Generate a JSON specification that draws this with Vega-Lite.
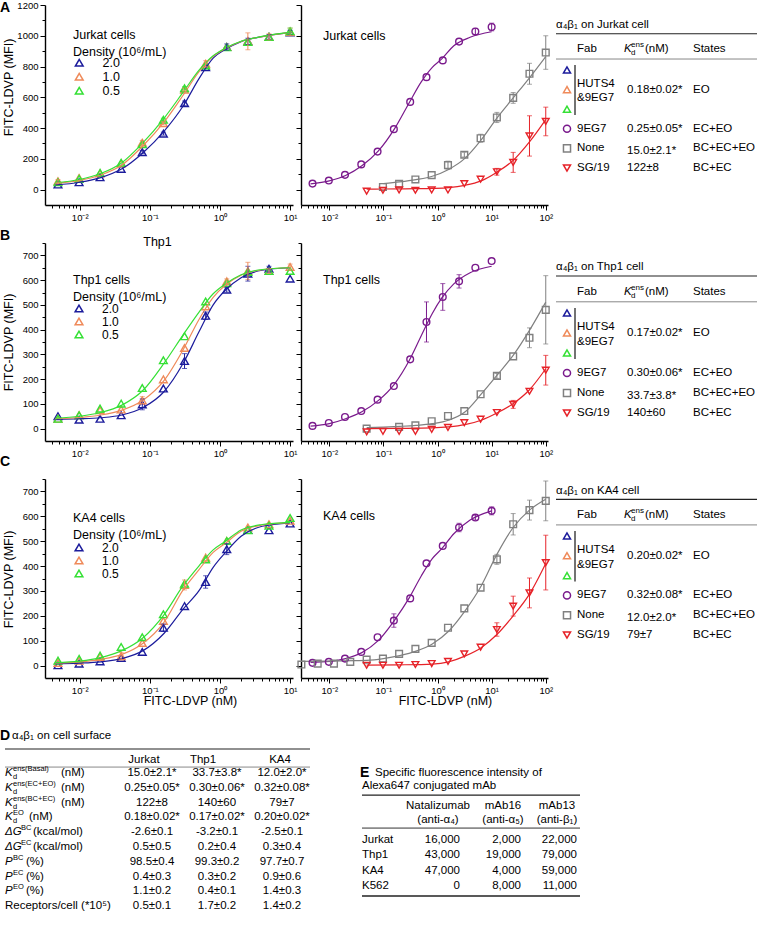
{
"$schema": "https://vega.github.io/schema/vega-lite/v6.json",
"padding": 0,
"background": "white",
"config": {
  "view": {"stroke": null},
  "font": "Liberation Sans",
  "axis": {"grid": false, "domainColor": "#000", "domainWidth": 1.4, "tickColor": "#000", "tickWidth": 1, "labelColor": "#000", "labelFont": "Liberation Sans", "labelFontSize": 9.5, "titleFont": "Liberation Sans", "titleFontSize": 12.5, "titleFontWeight": "normal", "titleColor": "#000", "labelPadding": 2, "labelOverlap": false, "labelFlush": false},
  "title": {"font": "Liberation Sans", "color": "#000", "fontWeight": "normal"},
  "text": {"font": "Liberation Sans", "fontSize": 11.5, "color": "#000"}
},
"datasets": {
"pts": [
{"p":"A1","s":"2.0","x":0.0049,"y":33},{"p":"A1","s":"2.0","x":0.0098,"y":48},{"p":"A1","s":"2.0","x":0.0195,"y":80},{"p":"A1","s":"2.0","x":0.039,"y":135},{"p":"A1","s":"2.0","x":0.078,"y":244,"e":10},{"p":"A1","s":"2.0","x":0.156,"y":364,"e":10},{"p":"A1","s":"2.0","x":0.3125,"y":561,"e":15},{"p":"A1","s":"2.0","x":0.625,"y":796},{"p":"A1","s":"2.0","x":1.25,"y":927,"e":20},{"p":"A1","s":"2.0","x":2.5,"y":964,"e":20},{"p":"A1","s":"2.0","x":5,"y":993,"e":15},{"p":"A1","s":"2.0","x":10,"y":1021,"e":15},
{"p":"A1","s":"1.0","x":0.0049,"y":55,"e":10},{"p":"A1","s":"1.0","x":0.0098,"y":76},{"p":"A1","s":"1.0","x":0.0195,"y":105},{"p":"A1","s":"1.0","x":0.039,"y":170},{"p":"A1","s":"1.0","x":0.078,"y":305,"e":15},{"p":"A1","s":"1.0","x":0.156,"y":432,"e":10},{"p":"A1","s":"1.0","x":0.3125,"y":650,"e":10},{"p":"A1","s":"1.0","x":0.625,"y":818,"e":20},{"p":"A1","s":"1.0","x":1.25,"y":927},{"p":"A1","s":"1.0","x":2.5,"y":964,"e":55},{"p":"A1","s":"1.0","x":5,"y":993,"e":20},{"p":"A1","s":"1.0","x":10,"y":1025,"e":25},
{"p":"A1","s":"0.5","x":0.0049,"y":48},{"p":"A1","s":"0.5","x":0.0098,"y":70},{"p":"A1","s":"0.5","x":0.0195,"y":109},{"p":"A1","s":"0.5","x":0.039,"y":175},{"p":"A1","s":"0.5","x":0.078,"y":295},{"p":"A1","s":"0.5","x":0.156,"y":454,"e":10},{"p":"A1","s":"0.5","x":0.3125,"y":659,"e":10},{"p":"A1","s":"0.5","x":0.625,"y":807},{"p":"A1","s":"0.5","x":1.25,"y":925},{"p":"A1","s":"0.5","x":2.5,"y":960},{"p":"A1","s":"0.5","x":5,"y":993},{"p":"A1","s":"0.5","x":10,"y":1030,"e":20},
{"p":"B1","s":"2.0","x":0.0049,"y":50},{"p":"B1","s":"2.0","x":0.0098,"y":36},{"p":"B1","s":"2.0","x":0.0195,"y":40},{"p":"B1","s":"2.0","x":0.039,"y":54},{"p":"B1","s":"2.0","x":0.078,"y":98,"e":22},{"p":"B1","s":"2.0","x":0.156,"y":162},{"p":"B1","s":"2.0","x":0.3125,"y":273,"e":30},{"p":"B1","s":"2.0","x":0.625,"y":456,"e":15},{"p":"B1","s":"2.0","x":1.25,"y":561,"e":10},{"p":"B1","s":"2.0","x":2.5,"y":626,"e":30},{"p":"B1","s":"2.0","x":5,"y":646,"e":10},{"p":"B1","s":"2.0","x":10,"y":606},
{"p":"B1","s":"1.0","x":0.0049,"y":40},{"p":"B1","s":"1.0","x":0.0098,"y":54},{"p":"B1","s":"1.0","x":0.0195,"y":74},{"p":"B1","s":"1.0","x":0.039,"y":77},{"p":"B1","s":"1.0","x":0.078,"y":114,"e":15},{"p":"B1","s":"1.0","x":0.156,"y":199},{"p":"B1","s":"1.0","x":0.3125,"y":326},{"p":"B1","s":"1.0","x":0.625,"y":494},{"p":"B1","s":"1.0","x":1.25,"y":595,"e":10},{"p":"B1","s":"1.0","x":2.5,"y":637,"e":35},{"p":"B1","s":"1.0","x":5,"y":637,"e":10},{"p":"B1","s":"1.0","x":10,"y":653,"e":12},
{"p":"B1","s":"0.5","x":0.0049,"y":40},{"p":"B1","s":"0.5","x":0.0098,"y":54},{"p":"B1","s":"0.5","x":0.0195,"y":81},{"p":"B1","s":"0.5","x":0.039,"y":101},{"p":"B1","s":"0.5","x":0.078,"y":164},{"p":"B1","s":"0.5","x":0.156,"y":276},{"p":"B1","s":"0.5","x":0.3125,"y":373},{"p":"B1","s":"0.5","x":0.625,"y":514},{"p":"B1","s":"0.5","x":1.25,"y":588},{"p":"B1","s":"0.5","x":2.5,"y":633},{"p":"B1","s":"0.5","x":5,"y":637},{"p":"B1","s":"0.5","x":10,"y":637},
{"p":"C1","s":"2.0","x":0.0049,"y":1},{"p":"C1","s":"2.0","x":0.0098,"y":8},{"p":"C1","s":"2.0","x":0.0195,"y":17},{"p":"C1","s":"2.0","x":0.039,"y":31},{"p":"C1","s":"2.0","x":0.078,"y":55},{"p":"C1","s":"2.0","x":0.156,"y":152,"e":15},{"p":"C1","s":"2.0","x":0.3125,"y":239},{"p":"C1","s":"2.0","x":0.625,"y":336,"e":25},{"p":"C1","s":"2.0","x":1.25,"y":468,"e":22},{"p":"C1","s":"2.0","x":2.5,"y":545},{"p":"C1","s":"2.0","x":5,"y":544},{"p":"C1","s":"2.0","x":10,"y":571},
{"p":"C1","s":"1.0","x":0.0049,"y":11},{"p":"C1","s":"1.0","x":0.0098,"y":20},{"p":"C1","s":"1.0","x":0.0195,"y":34},{"p":"C1","s":"1.0","x":0.039,"y":38,"e":15},{"p":"C1","s":"1.0","x":0.078,"y":91},{"p":"C1","s":"1.0","x":0.156,"y":179},{"p":"C1","s":"1.0","x":0.3125,"y":324,"e":20},{"p":"C1","s":"1.0","x":0.625,"y":434},{"p":"C1","s":"1.0","x":1.25,"y":501},{"p":"C1","s":"1.0","x":2.5,"y":555},{"p":"C1","s":"1.0","x":5,"y":568},{"p":"C1","s":"1.0","x":10,"y":582},
{"p":"C1","s":"0.5","x":0.0049,"y":20},{"p":"C1","s":"0.5","x":0.0098,"y":27},{"p":"C1","s":"0.5","x":0.0195,"y":40},{"p":"C1","s":"0.5","x":0.039,"y":75},{"p":"C1","s":"0.5","x":0.078,"y":114},{"p":"C1","s":"0.5","x":0.156,"y":206},{"p":"C1","s":"0.5","x":0.3125,"y":329},{"p":"C1","s":"0.5","x":0.625,"y":427},{"p":"C1","s":"0.5","x":1.25,"y":501},{"p":"C1","s":"0.5","x":2.5,"y":544},{"p":"C1","s":"0.5","x":5,"y":562},{"p":"C1","s":"0.5","x":10,"y":593},
{"p":"A2","s":"9EG7","x":0.0049,"y":39},{"p":"A2","s":"9EG7","x":0.0098,"y":59},{"p":"A2","s":"9EG7","x":0.0195,"y":96},{"p":"A2","s":"9EG7","x":0.039,"y":164},{"p":"A2","s":"9EG7","x":0.078,"y":247},{"p":"A2","s":"9EG7","x":0.156,"y":393},{"p":"A2","s":"9EG7","x":0.3125,"y":570},{"p":"A2","s":"9EG7","x":0.625,"y":731},{"p":"A2","s":"9EG7","x":1.25,"y":840},{"p":"A2","s":"9EG7","x":2.5,"y":962},{"p":"A2","s":"9EG7","x":5,"y":1028,"e":20},{"p":"A2","s":"9EG7","x":10,"y":1057,"e":25},
{"p":"A2","s":"None","x":0.098,"y":17},{"p":"A2","s":"None","x":0.195,"y":37},{"p":"A2","s":"None","x":0.39,"y":66},{"p":"A2","s":"None","x":0.78,"y":94},{"p":"A2","s":"None","x":1.56,"y":159,"e":26},{"p":"A2","s":"None","x":3.125,"y":227,"e":15},{"p":"A2","s":"None","x":6.25,"y":334,"e":26},{"p":"A2","s":"None","x":12.5,"y":469,"e":33},{"p":"A2","s":"None","x":25,"y":596,"e":35},{"p":"A2","s":"None","x":50,"y":753,"e":68},{"p":"A2","s":"None","x":100,"y":891,"e":109},
{"p":"A2","s":"SG/19","x":0.049,"y":-10},{"p":"A2","s":"SG/19","x":0.098,"y":-4},{"p":"A2","s":"SG/19","x":0.195,"y":-2},{"p":"A2","s":"SG/19","x":0.39,"y":-4},{"p":"A2","s":"SG/19","x":0.78,"y":-2},{"p":"A2","s":"SG/19","x":1.56,"y":-2},{"p":"A2","s":"SG/19","x":3.125,"y":39},{"p":"A2","s":"SG/19","x":6.25,"y":68},{"p":"A2","s":"SG/19","x":12.5,"y":116,"e":22},{"p":"A2","s":"SG/19","x":25,"y":177,"e":65},{"p":"A2","s":"SG/19","x":50,"y":349,"e":131},{"p":"A2","s":"SG/19","x":100,"y":443,"e":93},
{"p":"B2","s":"9EG7","x":0.0049,"y":11},{"p":"B2","s":"9EG7","x":0.0098,"y":23},{"p":"B2","s":"9EG7","x":0.0195,"y":47},{"p":"B2","s":"9EG7","x":0.039,"y":71},{"p":"B2","s":"9EG7","x":0.078,"y":117},{"p":"B2","s":"9EG7","x":0.156,"y":172},{"p":"B2","s":"9EG7","x":0.3125,"y":280},{"p":"B2","s":"9EG7","x":0.625,"y":431,"e":81},{"p":"B2","s":"9EG7","x":1.25,"y":532,"e":54},{"p":"B2","s":"9EG7","x":2.5,"y":595,"e":27},{"p":"B2","s":"9EG7","x":5,"y":650},{"p":"B2","s":"9EG7","x":10,"y":677},
{"p":"B2","s":"None","x":0.049,"y":0},{"p":"B2","s":"None","x":0.195,"y":7},{"p":"B2","s":"None","x":0.39,"y":13},{"p":"B2","s":"None","x":0.78,"y":30},{"p":"B2","s":"None","x":1.56,"y":51},{"p":"B2","s":"None","x":3.125,"y":71},{"p":"B2","s":"None","x":6.25,"y":139},{"p":"B2","s":"None","x":12.5,"y":213,"e":10},{"p":"B2","s":"None","x":25,"y":292},{"p":"B2","s":"None","x":50,"y":367,"e":40},{"p":"B2","s":"None","x":100,"y":480,"e":138},
{"p":"B2","s":"SG/19","x":0.049,"y":-13},{"p":"B2","s":"SG/19","x":0.098,"y":-11},{"p":"B2","s":"SG/19","x":0.195,"y":-11},{"p":"B2","s":"SG/19","x":0.39,"y":-11},{"p":"B2","s":"SG/19","x":0.78,"y":-3},{"p":"B2","s":"SG/19","x":1.56,"y":5},{"p":"B2","s":"SG/19","x":3.125,"y":24},{"p":"B2","s":"SG/19","x":6.25,"y":38},{"p":"B2","s":"SG/19","x":12.5,"y":65},{"p":"B2","s":"SG/19","x":25,"y":98,"e":16},{"p":"B2","s":"SG/19","x":50,"y":151},{"p":"B2","s":"SG/19","x":100,"y":236,"e":60},
{"p":"C2","s":"9EG7","x":0.0049,"y":11},{"p":"C2","s":"9EG7","x":0.0098,"y":15},{"p":"C2","s":"9EG7","x":0.0195,"y":28},{"p":"C2","s":"9EG7","x":0.039,"y":55},{"p":"C2","s":"9EG7","x":0.078,"y":114},{"p":"C2","s":"9EG7","x":0.156,"y":181,"e":27},{"p":"C2","s":"9EG7","x":0.3125,"y":270},{"p":"C2","s":"9EG7","x":0.625,"y":411},{"p":"C2","s":"9EG7","x":1.25,"y":481},{"p":"C2","s":"9EG7","x":2.5,"y":555,"e":17},{"p":"C2","s":"9EG7","x":5,"y":595,"e":10},{"p":"C2","s":"9EG7","x":10,"y":622,"e":16},
{"p":"C2","s":"None","x":0.00305,"y":4},{"p":"C2","s":"None","x":0.0061,"y":8},{"p":"C2","s":"None","x":0.0122,"y":8},{"p":"C2","s":"None","x":0.0244,"y":15},{"p":"C2","s":"None","x":0.049,"y":24},{"p":"C2","s":"None","x":0.098,"y":28},{"p":"C2","s":"None","x":0.195,"y":47},{"p":"C2","s":"None","x":0.39,"y":67},{"p":"C2","s":"None","x":0.78,"y":91},{"p":"C2","s":"None","x":1.56,"y":152},{"p":"C2","s":"None","x":3.125,"y":230},{"p":"C2","s":"None","x":6.25,"y":313},{"p":"C2","s":"None","x":12.5,"y":427,"e":20},{"p":"C2","s":"None","x":25,"y":568,"e":43},{"p":"C2","s":"None","x":50,"y":625,"e":40},{"p":"C2","s":"None","x":100,"y":662,"e":80},
{"p":"C2","s":"SG/19","x":0.049,"y":1},{"p":"C2","s":"SG/19","x":0.098,"y":1},{"p":"C2","s":"SG/19","x":0.195,"y":1},{"p":"C2","s":"SG/19","x":0.39,"y":4},{"p":"C2","s":"SG/19","x":0.78,"y":8},{"p":"C2","s":"SG/19","x":1.56,"y":17},{"p":"C2","s":"SG/19","x":3.125,"y":47},{"p":"C2","s":"SG/19","x":6.25,"y":74},{"p":"C2","s":"SG/19","x":12.5,"y":145,"e":27},{"p":"C2","s":"SG/19","x":25,"y":239,"e":40},{"p":"C2","s":"SG/19","x":50,"y":292,"e":60},{"p":"C2","s":"SG/19","x":100,"y":414,"e":110}
],
"crv": [
{"p":"A1","s":"2.0","x":0.0045,"y":30},{"p":"A1","s":"2.0","x":0.01,"y":48},{"p":"A1","s":"2.0","x":0.02,"y":78},{"p":"A1","s":"2.0","x":0.04,"y":135},{"p":"A1","s":"2.0","x":0.08,"y":240},{"p":"A1","s":"2.0","x":0.16,"y":380},{"p":"A1","s":"2.0","x":0.3,"y":545},{"p":"A1","s":"2.0","x":0.5,"y":720},{"p":"A1","s":"2.0","x":0.8,"y":855},{"p":"A1","s":"2.0","x":1.2,"y":912},{"p":"A1","s":"2.0","x":2,"y":962},{"p":"A1","s":"2.0","x":4,"y":995},{"p":"A1","s":"2.0","x":10,"y":1021},
{"p":"A1","s":"1.0","x":0.0045,"y":40},{"p":"A1","s":"1.0","x":0.01,"y":60},{"p":"A1","s":"1.0","x":0.02,"y":95},{"p":"A1","s":"1.0","x":0.04,"y":160},{"p":"A1","s":"1.0","x":0.08,"y":285},{"p":"A1","s":"1.0","x":0.16,"y":440},{"p":"A1","s":"1.0","x":0.3,"y":615},{"p":"A1","s":"1.0","x":0.5,"y":765},{"p":"A1","s":"1.0","x":0.8,"y":866},{"p":"A1","s":"1.0","x":1.2,"y":918},{"p":"A1","s":"1.0","x":2,"y":963},{"p":"A1","s":"1.0","x":4,"y":995},{"p":"A1","s":"1.0","x":10,"y":1021},
{"p":"A1","s":"0.5","x":0.0045,"y":45},{"p":"A1","s":"0.5","x":0.01,"y":66},{"p":"A1","s":"0.5","x":0.02,"y":105},{"p":"A1","s":"0.5","x":0.04,"y":175},{"p":"A1","s":"0.5","x":0.08,"y":305},{"p":"A1","s":"0.5","x":0.16,"y":465},{"p":"A1","s":"0.5","x":0.3,"y":635},{"p":"A1","s":"0.5","x":0.5,"y":775},{"p":"A1","s":"0.5","x":0.8,"y":870},{"p":"A1","s":"0.5","x":1.2,"y":920},{"p":"A1","s":"0.5","x":2,"y":964},{"p":"A1","s":"0.5","x":4,"y":996},{"p":"A1","s":"0.5","x":10,"y":1022},
{"p":"B1","s":"2.0","x":0.0045,"y":38},{"p":"B1","s":"2.0","x":0.01,"y":40},{"p":"B1","s":"2.0","x":0.02,"y":44},{"p":"B1","s":"2.0","x":0.04,"y":55},{"p":"B1","s":"2.0","x":0.08,"y":85},{"p":"B1","s":"2.0","x":0.16,"y":150},{"p":"B1","s":"2.0","x":0.3,"y":265},{"p":"B1","s":"2.0","x":0.5,"y":390},{"p":"B1","s":"2.0","x":0.8,"y":500},{"p":"B1","s":"2.0","x":1.2,"y":560},{"p":"B1","s":"2.0","x":2,"y":610},{"p":"B1","s":"2.0","x":4,"y":640},{"p":"B1","s":"2.0","x":10,"y":650},
{"p":"B1","s":"1.0","x":0.0045,"y":40},{"p":"B1","s":"1.0","x":0.01,"y":45},{"p":"B1","s":"1.0","x":0.02,"y":55},{"p":"B1","s":"1.0","x":0.04,"y":75},{"p":"B1","s":"1.0","x":0.08,"y":115},{"p":"B1","s":"1.0","x":0.16,"y":195},{"p":"B1","s":"1.0","x":0.3,"y":320},{"p":"B1","s":"1.0","x":0.5,"y":440},{"p":"B1","s":"1.0","x":0.8,"y":530},{"p":"B1","s":"1.0","x":1.2,"y":580},{"p":"B1","s":"1.0","x":2,"y":620},{"p":"B1","s":"1.0","x":4,"y":642},{"p":"B1","s":"1.0","x":10,"y":650},
{"p":"B1","s":"0.5","x":0.0045,"y":42},{"p":"B1","s":"0.5","x":0.01,"y":50},{"p":"B1","s":"0.5","x":0.02,"y":65},{"p":"B1","s":"0.5","x":0.04,"y":95},{"p":"B1","s":"0.5","x":0.08,"y":155},{"p":"B1","s":"0.5","x":0.16,"y":265},{"p":"B1","s":"0.5","x":0.3,"y":380},{"p":"B1","s":"0.5","x":0.5,"y":470},{"p":"B1","s":"0.5","x":0.8,"y":545},{"p":"B1","s":"0.5","x":1.2,"y":585},{"p":"B1","s":"0.5","x":2,"y":622},{"p":"B1","s":"0.5","x":4,"y":643},{"p":"B1","s":"0.5","x":10,"y":650},
{"p":"C1","s":"2.0","x":0.0045,"y":8},{"p":"C1","s":"2.0","x":0.01,"y":10},{"p":"C1","s":"2.0","x":0.02,"y":15},{"p":"C1","s":"2.0","x":0.04,"y":28},{"p":"C1","s":"2.0","x":0.08,"y":60},{"p":"C1","s":"2.0","x":0.16,"y":130},{"p":"C1","s":"2.0","x":0.3,"y":228},{"p":"C1","s":"2.0","x":0.5,"y":300},{"p":"C1","s":"2.0","x":0.8,"y":395},{"p":"C1","s":"2.0","x":1.2,"y":455},{"p":"C1","s":"2.0","x":2,"y":520},{"p":"C1","s":"2.0","x":4,"y":560},{"p":"C1","s":"2.0","x":10,"y":574},
{"p":"C1","s":"1.0","x":0.0045,"y":10},{"p":"C1","s":"1.0","x":0.01,"y":15},{"p":"C1","s":"1.0","x":0.02,"y":25},{"p":"C1","s":"1.0","x":0.04,"y":45},{"p":"C1","s":"1.0","x":0.08,"y":90},{"p":"C1","s":"1.0","x":0.16,"y":175},{"p":"C1","s":"1.0","x":0.3,"y":305},{"p":"C1","s":"1.0","x":0.5,"y":385},{"p":"C1","s":"1.0","x":0.8,"y":455},{"p":"C1","s":"1.0","x":1.2,"y":492},{"p":"C1","s":"1.0","x":2,"y":540},{"p":"C1","s":"1.0","x":4,"y":565},{"p":"C1","s":"1.0","x":10,"y":575},
{"p":"C1","s":"0.5","x":0.0045,"y":12},{"p":"C1","s":"0.5","x":0.01,"y":18},{"p":"C1","s":"0.5","x":0.02,"y":32},{"p":"C1","s":"0.5","x":0.04,"y":60},{"p":"C1","s":"0.5","x":0.08,"y":112},{"p":"C1","s":"0.5","x":0.16,"y":205},{"p":"C1","s":"0.5","x":0.3,"y":322},{"p":"C1","s":"0.5","x":0.5,"y":400},{"p":"C1","s":"0.5","x":0.8,"y":465},{"p":"C1","s":"0.5","x":1.2,"y":500},{"p":"C1","s":"0.5","x":2,"y":545},{"p":"C1","s":"0.5","x":4,"y":567},{"p":"C1","s":"0.5","x":10,"y":576},
{"p":"A2","s":"9EG7","x":0.0045,"y":37},{"p":"A2","s":"9EG7","x":0.01,"y":57},{"p":"A2","s":"9EG7","x":0.02,"y":92},{"p":"A2","s":"9EG7","x":0.04,"y":155},{"p":"A2","s":"9EG7","x":0.08,"y":250},{"p":"A2","s":"9EG7","x":0.16,"y":395},{"p":"A2","s":"9EG7","x":0.3,"y":565},{"p":"A2","s":"9EG7","x":0.5,"y":700},{"p":"A2","s":"9EG7","x":0.8,"y":795},{"p":"A2","s":"9EG7","x":1.2,"y":850},{"p":"A2","s":"9EG7","x":2,"y":935},{"p":"A2","s":"9EG7","x":4,"y":990},{"p":"A2","s":"9EG7","x":10,"y":1026},
{"p":"A2","s":"None","x":0.1,"y":39},{"p":"A2","s":"None","x":0.2,"y":50},{"p":"A2","s":"None","x":0.4,"y":65},{"p":"A2","s":"None","x":0.8,"y":87},{"p":"A2","s":"None","x":1.6,"y":131},{"p":"A2","s":"None","x":3.2,"y":203},{"p":"A2","s":"None","x":6.4,"y":323},{"p":"A2","s":"None","x":12.5,"y":465},{"p":"A2","s":"None","x":25,"y":596},{"p":"A2","s":"None","x":50,"y":727},{"p":"A2","s":"None","x":100,"y":865},
{"p":"A2","s":"SG/19","x":0.049,"y":3},{"p":"A2","s":"SG/19","x":0.1,"y":4},{"p":"A2","s":"SG/19","x":0.2,"y":5},{"p":"A2","s":"SG/19","x":0.4,"y":6},{"p":"A2","s":"SG/19","x":0.8,"y":8},{"p":"A2","s":"SG/19","x":1.6,"y":13},{"p":"A2","s":"SG/19","x":3.2,"y":28},{"p":"A2","s":"SG/19","x":6.4,"y":57},{"p":"A2","s":"SG/19","x":12.5,"y":113},{"p":"A2","s":"SG/19","x":25,"y":190},{"p":"A2","s":"SG/19","x":50,"y":310},{"p":"A2","s":"SG/19","x":100,"y":455},
{"p":"B2","s":"9EG7","x":0.0045,"y":10},{"p":"B2","s":"9EG7","x":0.01,"y":20},{"p":"B2","s":"9EG7","x":0.02,"y":40},{"p":"B2","s":"9EG7","x":0.04,"y":68},{"p":"B2","s":"9EG7","x":0.08,"y":113},{"p":"B2","s":"9EG7","x":0.16,"y":180},{"p":"B2","s":"9EG7","x":0.3,"y":275},{"p":"B2","s":"9EG7","x":0.5,"y":375},{"p":"B2","s":"9EG7","x":0.8,"y":465},{"p":"B2","s":"9EG7","x":1.2,"y":528},{"p":"B2","s":"9EG7","x":2,"y":585},{"p":"B2","s":"9EG7","x":4,"y":630},{"p":"B2","s":"9EG7","x":10,"y":656},
{"p":"B2","s":"None","x":0.049,"y":4},{"p":"B2","s":"None","x":0.1,"y":6},{"p":"B2","s":"None","x":0.2,"y":9},{"p":"B2","s":"None","x":0.4,"y":13},{"p":"B2","s":"None","x":0.8,"y":20},{"p":"B2","s":"None","x":1.6,"y":34},{"p":"B2","s":"None","x":3.2,"y":67},{"p":"B2","s":"None","x":6.4,"y":139},{"p":"B2","s":"None","x":12.5,"y":215},{"p":"B2","s":"None","x":25,"y":296},{"p":"B2","s":"None","x":50,"y":397},{"p":"B2","s":"None","x":100,"y":511},
{"p":"B2","s":"SG/19","x":0.049,"y":0},{"p":"B2","s":"SG/19","x":0.2,"y":1},{"p":"B2","s":"SG/19","x":0.8,"y":3},{"p":"B2","s":"SG/19","x":1.6,"y":7},{"p":"B2","s":"SG/19","x":3.2,"y":16},{"p":"B2","s":"SG/19","x":6.4,"y":34},{"p":"B2","s":"SG/19","x":12.5,"y":63},{"p":"B2","s":"SG/19","x":25,"y":101},{"p":"B2","s":"SG/19","x":50,"y":157},{"p":"B2","s":"SG/19","x":100,"y":242},
{"p":"C2","s":"9EG7","x":0.0045,"y":13},{"p":"C2","s":"9EG7","x":0.01,"y":17},{"p":"C2","s":"9EG7","x":0.02,"y":28},{"p":"C2","s":"9EG7","x":0.04,"y":52},{"p":"C2","s":"9EG7","x":0.08,"y":100},{"p":"C2","s":"9EG7","x":0.16,"y":182},{"p":"C2","s":"9EG7","x":0.3,"y":272},{"p":"C2","s":"9EG7","x":0.5,"y":360},{"p":"C2","s":"9EG7","x":0.8,"y":430},{"p":"C2","s":"9EG7","x":1.2,"y":470},{"p":"C2","s":"9EG7","x":2,"y":530},{"p":"C2","s":"9EG7","x":4,"y":585},{"p":"C2","s":"9EG7","x":10,"y":622},
{"p":"C2","s":"None","x":0.003,"y":17},{"p":"C2","s":"None","x":0.01,"y":18},{"p":"C2","s":"None","x":0.03,"y":20},{"p":"C2","s":"None","x":0.049,"y":21},{"p":"C2","s":"None","x":0.1,"y":28},{"p":"C2","s":"None","x":0.2,"y":40},{"p":"C2","s":"None","x":0.4,"y":58},{"p":"C2","s":"None","x":0.8,"y":87},{"p":"C2","s":"None","x":1.6,"y":138},{"p":"C2","s":"None","x":3.2,"y":219},{"p":"C2","s":"None","x":6.4,"y":320},{"p":"C2","s":"None","x":12.5,"y":447},{"p":"C2","s":"None","x":25,"y":555},{"p":"C2","s":"None","x":50,"y":625},{"p":"C2","s":"None","x":100,"y":669},
{"p":"C2","s":"SG/19","x":0.049,"y":2},{"p":"C2","s":"SG/19","x":0.2,"y":3},{"p":"C2","s":"SG/19","x":0.8,"y":6},{"p":"C2","s":"SG/19","x":1.6,"y":15},{"p":"C2","s":"SG/19","x":3.2,"y":38},{"p":"C2","s":"SG/19","x":6.4,"y":72},{"p":"C2","s":"SG/19","x":12.5,"y":125},{"p":"C2","s":"SG/19","x":25,"y":200},{"p":"C2","s":"SG/19","x":50,"y":287},{"p":"C2","s":"SG/19","x":100,"y":410}
],
"legsym": [{"s":"2.0","r":0},{"s":"1.0","r":1},{"s":"0.5","r":2},{"s":"9EG7","r":3},{"s":"None","r":4},{"s":"SG/19","r":5}],
"legtxt": [
{"p":"A","c":0,"r":-2.28,"t":"α₄β₁ on Jurkat cell"},{"p":"A","c":3,"r":-1.05,"t":"Fab"},{"p":"A","c":6,"r":-1.05,"t":"States"},{"p":"A","c":3,"r":0.72,"t":"HUTS4"},{"p":"A","c":3,"r":1.45,"t":"&9EG7"},{"p":"A","c":5,"r":1,"t":"0.18±0.02*"},{"p":"A","c":6,"r":1,"t":"EO"},{"p":"A","c":3,"r":3,"t":"9EG7"},{"p":"A","c":5,"r":3,"t":"0.25±0.05*"},{"p":"A","c":6,"r":3,"t":"EC+EO"},{"p":"A","c":3,"r":4,"t":"None"},{"p":"A","c":5,"r":4.15,"t":"15.0±2.1*"},{"p":"A","c":6,"r":4,"t":"BC+EC+EO"},{"p":"A","c":3,"r":5,"t":"SG/19"},{"p":"A","c":5,"r":5,"t":"\u2002122±8"},{"p":"A","c":6,"r":5,"t":"BC+EC"},
{"p":"B","c":0,"r":-2.28,"t":"α₄β₁ on Thp1 cell"},{"p":"B","c":3,"r":-1.05,"t":"Fab"},{"p":"B","c":6,"r":-1.05,"t":"States"},{"p":"B","c":3,"r":0.72,"t":"HUTS4"},{"p":"B","c":3,"r":1.45,"t":"&9EG7"},{"p":"B","c":5,"r":1,"t":"0.17±0.02*"},{"p":"B","c":6,"r":1,"t":"EO"},{"p":"B","c":3,"r":3,"t":"9EG7"},{"p":"B","c":5,"r":3,"t":"0.30±0.06*"},{"p":"B","c":6,"r":3,"t":"EC+EO"},{"p":"B","c":3,"r":4,"t":"None"},{"p":"B","c":5,"r":4.15,"t":"33.7±3.8*"},{"p":"B","c":6,"r":4,"t":"BC+EC+EO"},{"p":"B","c":3,"r":5,"t":"SG/19"},{"p":"B","c":5,"r":5,"t":"\u2002140±60"},{"p":"B","c":6,"r":5,"t":"BC+EC"},
{"p":"C","c":0,"r":-2.28,"t":"α₄β₁ on KA4 cell"},{"p":"C","c":3,"r":-1.05,"t":"Fab"},{"p":"C","c":6,"r":-1.05,"t":"States"},{"p":"C","c":3,"r":0.72,"t":"HUTS4"},{"p":"C","c":3,"r":1.45,"t":"&9EG7"},{"p":"C","c":5,"r":1,"t":"0.20±0.02*"},{"p":"C","c":6,"r":1,"t":"EO"},{"p":"C","c":3,"r":3,"t":"9EG7"},{"p":"C","c":5,"r":3,"t":"0.32±0.08*"},{"p":"C","c":6,"r":3,"t":"EC+EO"},{"p":"C","c":3,"r":4,"t":"None"},{"p":"C","c":5,"r":4.15,"t":"12.0±2.0*"},{"p":"C","c":6,"r":4,"t":"BC+EC+EO"},{"p":"C","c":3,"r":5,"t":"SG/19"},{"p":"C","c":5,"r":5,"t":"\u200279±7"},{"p":"C","c":6,"r":5,"t":"BC+EC"}
],
"dlab": [
{"r":0,"sym":"K","sup":"ens(Basal)","unit":"(nM)","lt":"Kens"},{"r":1,"sym":"K","sup":"ens(EC+EO)","unit":"(nM)","lt":"Kens"},{"r":2,"sym":"K","sup":"ens(BC+EC)","unit":"(nM)","lt":"Kens"},{"r":3,"sym":"K","sup":"EO","unit":"(nM)","lt":"KEO"},{"r":4,"sym":"ΔG","sup":"BC","unit":"(kcal/mol)","lt":"dG"},{"r":5,"sym":"ΔG","sup":"EC","unit":"(kcal/mol)","lt":"dG"},{"r":6,"sym":"P","sup":"BC","unit":"(%)","lt":"P"},{"r":7,"sym":"P","sup":"EC","unit":"(%)","lt":"P"},{"r":8,"sym":"P","sup":"EO","unit":"(%)","lt":"P"}
],
"dval": [
{"c":1,"r":-0.88,"t":"Jurkat"},{"c":3,"r":-0.88,"t":"Thp1"},{"c":5,"r":-0.88,"t":"KA4"},
{"c":2,"r":0,"t":"15.0±2.1*"},{"c":4,"r":0,"t":"33.7±3.8*"},{"c":6,"r":0,"t":"12.0±2.0*"},
{"c":2,"r":1,"t":"0.25±0.05*"},{"c":4,"r":1,"t":"0.30±0.06*"},{"c":6,"r":1,"t":"0.32±0.08*"},
{"c":2,"r":2,"t":"122±8"},{"c":4,"r":2,"t":"140±60"},{"c":6,"r":2,"t":"79±7"},
{"c":2,"r":3,"t":"0.18±0.02*"},{"c":4,"r":3,"t":"0.17±0.02*"},{"c":6,"r":3,"t":"0.20±0.02*"},
{"c":2,"r":4,"t":"-2.6±0.1"},{"c":4,"r":4,"t":"-3.2±0.1"},{"c":6,"r":4,"t":"-2.5±0.1"},
{"c":2,"r":5,"t":"0.5±0.5"},{"c":4,"r":5,"t":"0.2±0.4"},{"c":6,"r":5,"t":"0.3±0.4"},
{"c":2,"r":6,"t":"98.5±0.4"},{"c":4,"r":6,"t":"99.3±0.2"},{"c":6,"r":6,"t":"97.7±0.7"},
{"c":2,"r":7,"t":"0.4±0.3"},{"c":4,"r":7,"t":"0.3±0.2"},{"c":6,"r":7,"t":"0.9±0.6"},
{"c":2,"r":8,"t":"1.1±0.2"},{"c":4,"r":8,"t":"0.4±0.1"},{"c":6,"r":8,"t":"1.4±0.3"},
{"c":2,"r":9,"t":"0.5±0.1"},{"c":4,"r":9,"t":"1.7±0.2"},{"c":6,"r":9,"t":"1.4±0.2"}
],
"etl": [{"c":0,"r":-3.48,"t":"Alexa647 conjugated mAb"},{"c":0,"r":0,"t":"Jurkat"},{"c":0,"r":1,"t":"Thp1"},{"c":0,"r":2,"t":"KA4"},{"c":0,"r":3,"t":"K562"}],
"etc": [{"c":1,"r":-2.19,"t":"Natalizumab"},{"c":3,"r":-2.19,"t":"mAb16"},{"c":5,"r":-2.19,"t":"mAb13"},{"c":1,"r":-1.29,"t":"(anti-α₄)"},{"c":3,"r":-1.29,"t":"(anti-α₅)"},{"c":5,"r":-1.29,"t":"(anti-β₁)"}],
"etr": [
{"c":2,"r":0,"t":"16,000"},{"c":4,"r":0,"t":"2,000"},{"c":6,"r":0,"t":"22,000"},
{"c":2,"r":1,"t":"43,000"},{"c":4,"r":1,"t":"19,000"},{"c":6,"r":1,"t":"79,000"},
{"c":2,"r":2,"t":"47,000"},{"c":4,"r":2,"t":"4,000"},{"c":6,"r":2,"t":"59,000"},
{"c":2,"r":3,"t":"0"},{"c":4,"r":3,"t":"8,000"},{"c":6,"r":3,"t":"11,000"}
]
},
"columns": 3,
"align": "none",
"bounds": "flush",
"spacing": {"row": 38, "column": 8},
"resolve": {"scale": {"color": "independent", "shape": "independent"}},
"concat": [
  {
   "width": 248, "height": 200,
   "title": {"text": "A", "anchor": "start", "frame": "group", "fontSize": 14, "fontWeight": "bold", "offset": 0, "dx": -45, "dy": 26, "baseline": "alphabetic"},
   "resolve": {"scale": {"color": "independent"}},
   "encoding": {
    "x": {"field": "x", "type": "quantitative", "scale": {"type": "log", "domain": [0.0032, 11], "nice": false}, "axis": {"title": null, "values": [0.004,0.005,0.006,0.007,0.008,0.009,0.01,0.02,0.03,0.04,0.05,0.06,0.07,0.08,0.09,0.1,0.2,0.3,0.4,0.5,0.6,0.7,0.8,0.9,1,2,3,4,5,6,7,8,9,10], "labelExpr": "datum.value === 0.01 ? '10⁻²' : datum.value === 0.1 ? '10⁻¹' : datum.value === 1 ? '10⁰' : datum.value === 10 ? '10¹' : datum.value === 100 ? '10²' : ''", "tickSize": {"condition": {"test": "datum.value === 0.01 || datum.value === 0.1 || datum.value === 1 || datum.value === 10 || datum.value === 100", "value": 5}, "value": 3}}},
    "y": {"field": "y", "type": "quantitative", "scale": {"domain": [-100, 1200], "nice": false, "zero": false}, "axis": {"title": "FITC-LDVP (MFI)", "titleX": -30, "titleY": 82, "values": [0,100,200,300,400,500,600,700,800,900,1000,1100,1200], "format": "d", "labelExpr": "datum.value % 200 === 0 ? datum.label : ''", "tickSize": {"condition": {"test": "datum.value % 200 === 0", "value": 5}, "value": 3}}}
   },
   "layer": [
    {"data": {"name": "pts"}, "transform": [{"filter": "datum.p === 'A1'"}], "mark": {"type": "point", "shape": "triangle-up", "filled": false, "size": 60, "strokeWidth": 1.4, "opacity": 1}, "encoding": {"color": {"field": "s", "type": "nominal", "scale": {"domain": ["2.0","1.0","0.5"], "range": ["#1c1c9c","#ef8a5a","#35e035"]}, "legend": {"orient": "none", "legendX": 28, "legendY": 24, "title": ["Jurkat cells", "Density (10⁶/mL)"], "titleFontSize": 12.5, "titleFontWeight": "normal", "titleFont": "Liberation Sans", "titleColor": "#000", "titleLineHeight": 17, "titlePadding": -2, "labelFontSize": 12.5, "labelFont": "Liberation Sans", "labelColor": "#000", "labelOffset": 17, "symbolType": "triangle-up", "symbolSize": 60, "symbolStrokeWidth": 1.5, "rowPadding": 0, "padding": 0}}}},
    {"data": {"name": "crv"}, "transform": [{"filter": "datum.p === 'A1'"}], "mark": {"type": "line", "interpolate": "monotone", "strokeWidth": 1.2}, "encoding": {"color": {"field": "s", "type": "nominal", "scale": {"domain": ["2.0","1.0","0.5"], "range": ["#1c1c9c","#ef8a5a","#35e035"]}, "legend": null}}},
    {"data": {"name": "pts"}, "transform": [{"filter": "datum.p === 'A1' && datum.e > 0"}], "mark": {"type": "errorbar", "ticks": true, "thickness": 1}, "encoding": {"yError": {"field": "e"}, "color": {"field": "s", "type": "nominal", "scale": {"domain": ["2.0","1.0","0.5"], "range": ["#1c1c9c","#ef8a5a","#35e035"]}, "legend": null}}}
   ]
  },
  {
   "width": 247, "height": 200,
   "title": {"text": "Jurkat cells", "anchor": "start", "frame": "group", "fontSize": 12.5, "offset": 0, "dx": 22, "dy": 47.5, "baseline": "alphabetic"},
   "encoding": {
    "x": {"field": "x", "type": "quantitative", "scale": {"type": "log", "domain": [0.003, 110], "nice": false}, "axis": {"title": null, "values": [0.003,0.004,0.005,0.006,0.007,0.008,0.009,0.01,0.02,0.03,0.04,0.05,0.06,0.07,0.08,0.09,0.1,0.2,0.3,0.4,0.5,0.6,0.7,0.8,0.9,1,2,3,4,5,6,7,8,9,10,20,30,40,50,60,70,80,90,100], "labelExpr": "datum.value === 0.01 ? '10⁻²' : datum.value === 0.1 ? '10⁻¹' : datum.value === 1 ? '10⁰' : datum.value === 10 ? '10¹' : datum.value === 100 ? '10²' : ''", "tickSize": {"condition": {"test": "datum.value === 0.01 || datum.value === 0.1 || datum.value === 1 || datum.value === 10 || datum.value === 100", "value": 5}, "value": 3}}},
    "y": {"field": "y", "type": "quantitative", "scale": {"domain": [-100, 1200], "nice": false, "zero": false}, "axis": {"title": null, "labels": false, "values": [0,100,200,300,400,500,600,700,800,900,1000,1100,1200], "tickSize": {"condition": {"test": "datum.value % 200 === 0", "value": 5}, "value": 3}}}
   },
   "layer": [
    {"data": {"name": "crv"}, "transform": [{"filter": "datum.p === 'A2'"}], "mark": {"type": "line", "interpolate": "monotone", "strokeWidth": 1.2}, "encoding": {"color": {"field": "s", "type": "nominal", "scale": {"domain": ["9EG7","None","SG/19"], "range": ["#7a1a8c","#808080","#e62228"]}, "legend": null}}},
    {"data": {"name": "pts"}, "transform": [{"filter": "datum.p === 'A2' && datum.e > 0"}], "mark": {"type": "errorbar", "ticks": true, "thickness": 1}, "encoding": {"yError": {"field": "e"}, "color": {"field": "s", "type": "nominal", "scale": {"domain": ["9EG7","None","SG/19"], "range": ["#7a1a8c","#808080","#e62228"]}, "legend": null}}},
    {"data": {"name": "pts"}, "transform": [{"filter": "datum.p === 'A2'"}], "mark": {"type": "point", "filled": false, "size": 45, "strokeWidth": 1.4, "opacity": 1}, "encoding": {"color": {"field": "s", "type": "nominal", "scale": {"domain": ["9EG7","None","SG/19"], "range": ["#7a1a8c","#808080","#e62228"]}, "legend": null}, "shape": {"field": "s", "type": "nominal", "scale": {"domain": ["9EG7","None","SG/19"], "range": ["circle","square","triangle-down"]}, "legend": null}}}
   ]
  },
  {
   "width": 201, "height": 200,
   "layer": [
    {"data": {"values": [{}]}, "mark": {"type": "rule", "color": "#222", "strokeWidth": 1.2}, "encoding": {"y": {"datum": -1.85, "type": "quantitative", "scale": {"domain": [-3.316, 6.888], "reverse": true, "nice": false, "zero": false}, "axis": null}}},
    {"data": {"values": [{}]}, "mark": {"type": "rule", "color": "#888", "strokeWidth": 1}, "encoding": {"y": {"datum": -0.56, "type": "quantitative"}}},
    {"data": {"values": [{}]}, "mark": {"type": "rule", "color": "#444", "strokeWidth": 1.5}, "encoding": {"x": {"datum": 2, "type": "quantitative", "scale": {"domain": [0,1,2,3,4,5,6], "range": [0,11,19,21,68,71,137], "nice": false, "zero": false}, "axis": null}, "y": {"datum": -0.25, "type": "quantitative"}, "y2": {"datum": 2.3}}},
    {"data": {"name": "legsym"}, "mark": {"type": "point", "filled": false, "size": 50, "strokeWidth": 1.5, "opacity": 1}, "encoding": {"x": {"datum": 1, "type": "quantitative"}, "y": {"field": "r", "type": "quantitative"}, "color": {"field": "s", "type": "nominal", "scale": {"domain": ["2.0","1.0","0.5","9EG7","None","SG/19"], "range": ["#1c1c9c","#ef8a5a","#35e035","#7a1a8c","#808080","#e62228"]}, "legend": null}, "shape": {"field": "s", "type": "nominal", "scale": {"domain": ["2.0","1.0","0.5","9EG7","None","SG/19"], "range": ["triangle-up","triangle-up","triangle-up","circle","square","triangle-down"]}, "legend": null}}},
    {"data": {"name": "legtxt"}, "transform": [{"filter": "datum.p === 'A'"}], "mark": {"type": "text", "align": "left", "baseline": "middle", "fontSize": 11.5}, "encoding": {"x": {"field": "c", "type": "quantitative"}, "y": {"field": "r", "type": "quantitative"}, "text": {"field": "t"}}},
    {"data": {"values": [{"c": 4, "r": -1.05}]}, "mark": {"type": "text", "text": "K", "fontStyle": "italic", "align": "left", "baseline": "middle", "fontSize": 11.5}, "encoding": {"x": {"field": "c", "type": "quantitative"}, "y": {"field": "r", "type": "quantitative"}}},
    {"data": {"values": [{"c": 4, "r": -1.05}]}, "mark": {"type": "text", "text": "d", "align": "left", "baseline": "middle", "fontSize": 8, "dx": 7, "dy": 4}, "encoding": {"x": {"field": "c", "type": "quantitative"}, "y": {"field": "r", "type": "quantitative"}}},
    {"data": {"values": [{"c": 4, "r": -1.05}]}, "mark": {"type": "text", "text": "ens", "align": "left", "baseline": "middle", "fontSize": 8, "dx": 7, "dy": -4}, "encoding": {"x": {"field": "c", "type": "quantitative"}, "y": {"field": "r", "type": "quantitative"}}},
    {"data": {"values": [{"c": 4, "r": -1.05}]}, "mark": {"type": "text", "text": "(nM)", "align": "left", "baseline": "middle", "fontSize": 11.5, "dx": 21}, "encoding": {"x": {"field": "c", "type": "quantitative"}, "y": {"field": "r", "type": "quantitative"}}}
   ]
  },
  {
   "width": 248, "height": 198,
   "title": {"text": "B", "anchor": "start", "frame": "group", "fontSize": 14, "fontWeight": "bold", "offset": 0, "dx": -45, "dy": 19, "baseline": "alphabetic"},
   "resolve": {"axis": {"x": "independent"}, "scale": {"color": "independent"}},
   "encoding": {
    "y": {"field": "y", "type": "quantitative", "scale": {"domain": [-50, 750], "nice": false, "zero": false}, "axis": {"title": "FITC-LDVP (MFI)", "titleX": -30, "titleY": 99, "values": [0,50,100,150,200,250,300,350,400,450,500,550,600,650,700,750], "format": "d", "labelExpr": "datum.value % 100 === 0 ? datum.label : ''", "tickSize": {"condition": {"test": "datum.value % 100 === 0", "value": 5}, "value": 3}}}
   },
   "layer": [
    {"data": {"name": "pts"}, "transform": [{"filter": "datum.p === 'B1'"}], "mark": {"type": "point", "shape": "triangle-up", "filled": false, "size": 60, "strokeWidth": 1.4, "opacity": 1}, "encoding": {"x": {"field": "x", "type": "quantitative", "axis": {"orient": "top", "title": "Thp1", "labels": false, "ticks": false, "domain": false, "titleX": 112, "titleY": 2, "titleBaseline": "alphabetic"}}, "color": {"field": "s", "type": "nominal", "scale": {"domain": ["2.0","1.0","0.5"], "range": ["#1c1c9c","#ef8a5a","#35e035"]}, "legend": {"orient": "none", "legendX": 28, "legendY": 31, "title": ["Thp1 cells", "Density (10⁶/mL)"], "titleFontSize": 12.5, "titleFontWeight": "normal", "titleFont": "Liberation Sans", "titleColor": "#000", "titleLineHeight": 17, "titlePadding": -1, "labelFontSize": 12, "labelFont": "Liberation Sans", "labelColor": "#000", "labelOffset": 17, "symbolType": "triangle-up", "symbolSize": 60, "symbolStrokeWidth": 1.5, "rowPadding": -1, "padding": 0}}}},
    {"data": {"name": "crv"}, "transform": [{"filter": "datum.p === 'B1'"}], "mark": {"type": "line", "interpolate": "monotone", "strokeWidth": 1.2}, "encoding": {"x": {"field": "x", "type": "quantitative", "scale": {"type": "log", "domain": [0.0032, 11], "nice": false}, "axis": {"orient": "bottom", "title": null, "values": [0.004,0.005,0.006,0.007,0.008,0.009,0.01,0.02,0.03,0.04,0.05,0.06,0.07,0.08,0.09,0.1,0.2,0.3,0.4,0.5,0.6,0.7,0.8,0.9,1,2,3,4,5,6,7,8,9,10], "labelExpr": "datum.value === 0.01 ? '10⁻²' : datum.value === 0.1 ? '10⁻¹' : datum.value === 1 ? '10⁰' : datum.value === 10 ? '10¹' : datum.value === 100 ? '10²' : ''", "tickSize": {"condition": {"test": "datum.value === 0.01 || datum.value === 0.1 || datum.value === 1 || datum.value === 10 || datum.value === 100", "value": 5}, "value": 3}}}, "color": {"field": "s", "type": "nominal", "scale": {"domain": ["2.0","1.0","0.5"], "range": ["#1c1c9c","#ef8a5a","#35e035"]}, "legend": null}}},
    {"data": {"name": "pts"}, "transform": [{"filter": "datum.p === 'B1' && datum.e > 0"}], "mark": {"type": "errorbar", "ticks": true, "thickness": 1}, "encoding": {"x": {"field": "x", "type": "quantitative", "axis": null}, "yError": {"field": "e"}, "color": {"field": "s", "type": "nominal", "scale": {"domain": ["2.0","1.0","0.5"], "range": ["#1c1c9c","#ef8a5a","#35e035"]}, "legend": null}}}
   ]
  },
  {
   "width": 247, "height": 198,
   "title": {"text": "Thp1 cells", "anchor": "start", "frame": "group", "fontSize": 12.5, "offset": 0, "dx": 22, "dy": 53.5, "baseline": "alphabetic"},
   "encoding": {
    "x": {"field": "x", "type": "quantitative", "scale": {"type": "log", "domain": [0.003, 110], "nice": false}, "axis": {"title": null, "values": [0.003,0.004,0.005,0.006,0.007,0.008,0.009,0.01,0.02,0.03,0.04,0.05,0.06,0.07,0.08,0.09,0.1,0.2,0.3,0.4,0.5,0.6,0.7,0.8,0.9,1,2,3,4,5,6,7,8,9,10,20,30,40,50,60,70,80,90,100], "labelExpr": "datum.value === 0.01 ? '10⁻²' : datum.value === 0.1 ? '10⁻¹' : datum.value === 1 ? '10⁰' : datum.value === 10 ? '10¹' : datum.value === 100 ? '10²' : ''", "tickSize": {"condition": {"test": "datum.value === 0.01 || datum.value === 0.1 || datum.value === 1 || datum.value === 10 || datum.value === 100", "value": 5}, "value": 3}}},
    "y": {"field": "y", "type": "quantitative", "scale": {"domain": [-50, 750], "nice": false, "zero": false}, "axis": {"title": null, "labels": false, "values": [0,50,100,150,200,250,300,350,400,450,500,550,600,650,700,750], "tickSize": {"condition": {"test": "datum.value % 100 === 0", "value": 5}, "value": 3}}}
   },
   "layer": [
    {"data": {"name": "crv"}, "transform": [{"filter": "datum.p === 'B2'"}], "mark": {"type": "line", "interpolate": "monotone", "strokeWidth": 1.2}, "encoding": {"color": {"field": "s", "type": "nominal", "scale": {"domain": ["9EG7","None","SG/19"], "range": ["#7a1a8c","#808080","#e62228"]}, "legend": null}}},
    {"data": {"name": "pts"}, "transform": [{"filter": "datum.p === 'B2' && datum.e > 0"}], "mark": {"type": "errorbar", "ticks": true, "thickness": 1}, "encoding": {"yError": {"field": "e"}, "color": {"field": "s", "type": "nominal", "scale": {"domain": ["9EG7","None","SG/19"], "range": ["#7a1a8c","#808080","#e62228"]}, "legend": null}}},
    {"data": {"name": "pts"}, "transform": [{"filter": "datum.p === 'B2'"}], "mark": {"type": "point", "filled": false, "size": 45, "strokeWidth": 1.4, "opacity": 1}, "encoding": {"color": {"field": "s", "type": "nominal", "scale": {"domain": ["9EG7","None","SG/19"], "range": ["#7a1a8c","#808080","#e62228"]}, "legend": null}, "shape": {"field": "s", "type": "nominal", "scale": {"domain": ["9EG7","None","SG/19"], "range": ["circle","square","triangle-down"]}, "legend": null}}}
   ]
  },
  {
   "width": 201, "height": 198,
   "layer": [
    {"data": {"values": [{}]}, "mark": {"type": "rule", "color": "#222", "strokeWidth": 1.2}, "encoding": {"y": {"datum": -1.85, "type": "quantitative", "scale": {"domain": [-3.5, 6.4], "reverse": true, "nice": false, "zero": false}, "axis": null}}},
    {"data": {"values": [{}]}, "mark": {"type": "rule", "color": "#888", "strokeWidth": 1}, "encoding": {"y": {"datum": -0.56, "type": "quantitative"}}},
    {"data": {"values": [{}]}, "mark": {"type": "rule", "color": "#444", "strokeWidth": 1.5}, "encoding": {"x": {"datum": 2, "type": "quantitative", "scale": {"domain": [0,1,2,3,4,5,6], "range": [0,11,19,21,68,71,137], "nice": false, "zero": false}, "axis": null}, "y": {"datum": -0.25, "type": "quantitative"}, "y2": {"datum": 2.3}}},
    {"data": {"name": "legsym"}, "mark": {"type": "point", "filled": false, "size": 50, "strokeWidth": 1.5, "opacity": 1}, "encoding": {"x": {"datum": 1, "type": "quantitative"}, "y": {"field": "r", "type": "quantitative"}, "color": {"field": "s", "type": "nominal", "scale": {"domain": ["2.0","1.0","0.5","9EG7","None","SG/19"], "range": ["#1c1c9c","#ef8a5a","#35e035","#7a1a8c","#808080","#e62228"]}, "legend": null}, "shape": {"field": "s", "type": "nominal", "scale": {"domain": ["2.0","1.0","0.5","9EG7","None","SG/19"], "range": ["triangle-up","triangle-up","triangle-up","circle","square","triangle-down"]}, "legend": null}}},
    {"data": {"name": "legtxt"}, "transform": [{"filter": "datum.p === 'B'"}], "mark": {"type": "text", "align": "left", "baseline": "middle", "fontSize": 11.5}, "encoding": {"x": {"field": "c", "type": "quantitative"}, "y": {"field": "r", "type": "quantitative"}, "text": {"field": "t"}}},
    {"data": {"values": [{"c": 4, "r": -1.05}]}, "mark": {"type": "text", "text": "K", "fontStyle": "italic", "align": "left", "baseline": "middle", "fontSize": 11.5}, "encoding": {"x": {"field": "c", "type": "quantitative"}, "y": {"field": "r", "type": "quantitative"}}},
    {"data": {"values": [{"c": 4, "r": -1.05}]}, "mark": {"type": "text", "text": "d", "align": "left", "baseline": "middle", "fontSize": 8, "dx": 7, "dy": 4}, "encoding": {"x": {"field": "c", "type": "quantitative"}, "y": {"field": "r", "type": "quantitative"}}},
    {"data": {"values": [{"c": 4, "r": -1.05}]}, "mark": {"type": "text", "text": "ens", "align": "left", "baseline": "middle", "fontSize": 8, "dx": 7, "dy": -4}, "encoding": {"x": {"field": "c", "type": "quantitative"}, "y": {"field": "r", "type": "quantitative"}}},
    {"data": {"values": [{"c": 4, "r": -1.05}]}, "mark": {"type": "text", "text": "(nM)", "align": "left", "baseline": "middle", "fontSize": 11.5, "dx": 21}, "encoding": {"x": {"field": "c", "type": "quantitative"}, "y": {"field": "r", "type": "quantitative"}}}
   ]
  },
  {
   "width": 248, "height": 199,
   "title": {"text": "C", "anchor": "start", "frame": "group", "fontSize": 14, "fontWeight": "bold", "offset": 0, "dx": -45, "dy": 6, "baseline": "alphabetic"},
   "resolve": {"scale": {"color": "independent"}},
   "encoding": {
    "x": {"field": "x", "type": "quantitative", "scale": {"type": "log", "domain": [0.0032, 11], "nice": false}, "axis": {"title": "FITC-LDVP (nM)", "titleX": 145, "titlePadding": 0, "values": [0.004,0.005,0.006,0.007,0.008,0.009,0.01,0.02,0.03,0.04,0.05,0.06,0.07,0.08,0.09,0.1,0.2,0.3,0.4,0.5,0.6,0.7,0.8,0.9,1,2,3,4,5,6,7,8,9,10], "labelExpr": "datum.value === 0.01 ? '10⁻²' : datum.value === 0.1 ? '10⁻¹' : datum.value === 1 ? '10⁰' : datum.value === 10 ? '10¹' : datum.value === 100 ? '10²' : ''", "tickSize": {"condition": {"test": "datum.value === 0.01 || datum.value === 0.1 || datum.value === 1 || datum.value === 10 || datum.value === 100", "value": 5}, "value": 3}}},
    "y": {"field": "y", "type": "quantitative", "scale": {"domain": [-50, 750], "nice": false, "zero": false}, "axis": {"title": "FITC-LDVP (MFI)", "titleX": -30, "titleY": 100, "values": [0,50,100,150,200,250,300,350,400,450,500,550,600,650,700,750], "format": "d", "labelExpr": "datum.value % 100 === 0 ? datum.label : ''", "tickSize": {"condition": {"test": "datum.value % 100 === 0", "value": 5}, "value": 3}}}
   },
   "layer": [
    {"data": {"name": "pts"}, "transform": [{"filter": "datum.p === 'C1'"}], "mark": {"type": "point", "shape": "triangle-up", "filled": false, "size": 60, "strokeWidth": 1.4, "opacity": 1}, "encoding": {"color": {"field": "s", "type": "nominal", "scale": {"domain": ["2.0","1.0","0.5"], "range": ["#1c1c9c","#ef8a5a","#35e035"]}, "legend": {"orient": "none", "legendX": 28, "legendY": 33, "title": ["KA4 cells", "Density (10⁶/mL)"], "titleFontSize": 12.5, "titleFontWeight": "normal", "titleFont": "Liberation Sans", "titleColor": "#000", "titleLineHeight": 17, "titlePadding": 0, "labelFontSize": 12, "labelFont": "Liberation Sans", "labelColor": "#000", "labelOffset": 17, "symbolType": "triangle-up", "symbolSize": 60, "symbolStrokeWidth": 1.5, "rowPadding": -1, "padding": 0}}}},
    {"data": {"name": "crv"}, "transform": [{"filter": "datum.p === 'C1'"}], "mark": {"type": "line", "interpolate": "monotone", "strokeWidth": 1.2}, "encoding": {"color": {"field": "s", "type": "nominal", "scale": {"domain": ["2.0","1.0","0.5"], "range": ["#1c1c9c","#ef8a5a","#35e035"]}, "legend": null}}},
    {"data": {"name": "pts"}, "transform": [{"filter": "datum.p === 'C1' && datum.e > 0"}], "mark": {"type": "errorbar", "ticks": true, "thickness": 1}, "encoding": {"yError": {"field": "e"}, "color": {"field": "s", "type": "nominal", "scale": {"domain": ["2.0","1.0","0.5"], "range": ["#1c1c9c","#ef8a5a","#35e035"]}, "legend": null}}}
   ]
  },
  {
   "width": 247, "height": 199,
   "title": {"text": "KA4 cells", "anchor": "start", "frame": "group", "fontSize": 12.5, "offset": 0, "dx": 22, "dy": 53.5, "baseline": "alphabetic"},
   "encoding": {
    "x": {"field": "x", "type": "quantitative", "scale": {"type": "log", "domain": [0.003, 110], "nice": false}, "axis": {"title": "FITC-LDVP (nM)", "titleX": 144, "titlePadding": 0, "values": [0.003,0.004,0.005,0.006,0.007,0.008,0.009,0.01,0.02,0.03,0.04,0.05,0.06,0.07,0.08,0.09,0.1,0.2,0.3,0.4,0.5,0.6,0.7,0.8,0.9,1,2,3,4,5,6,7,8,9,10,20,30,40,50,60,70,80,90,100], "labelExpr": "datum.value === 0.01 ? '10⁻²' : datum.value === 0.1 ? '10⁻¹' : datum.value === 1 ? '10⁰' : datum.value === 10 ? '10¹' : datum.value === 100 ? '10²' : ''", "tickSize": {"condition": {"test": "datum.value === 0.01 || datum.value === 0.1 || datum.value === 1 || datum.value === 10 || datum.value === 100", "value": 5}, "value": 3}}},
    "y": {"field": "y", "type": "quantitative", "scale": {"domain": [-50, 750], "nice": false, "zero": false}, "axis": {"title": null, "labels": false, "values": [0,50,100,150,200,250,300,350,400,450,500,550,600,650,700,750], "tickSize": {"condition": {"test": "datum.value % 100 === 0", "value": 5}, "value": 3}}}
   },
   "layer": [
    {"data": {"name": "crv"}, "transform": [{"filter": "datum.p === 'C2'"}], "mark": {"type": "line", "interpolate": "monotone", "strokeWidth": 1.2}, "encoding": {"color": {"field": "s", "type": "nominal", "scale": {"domain": ["9EG7","None","SG/19"], "range": ["#7a1a8c","#808080","#e62228"]}, "legend": null}}},
    {"data": {"name": "pts"}, "transform": [{"filter": "datum.p === 'C2' && datum.e > 0"}], "mark": {"type": "errorbar", "ticks": true, "thickness": 1}, "encoding": {"yError": {"field": "e"}, "color": {"field": "s", "type": "nominal", "scale": {"domain": ["9EG7","None","SG/19"], "range": ["#7a1a8c","#808080","#e62228"]}, "legend": null}}},
    {"data": {"name": "pts"}, "transform": [{"filter": "datum.p === 'C2'"}], "mark": {"type": "point", "filled": false, "size": 45, "strokeWidth": 1.4, "opacity": 1}, "encoding": {"color": {"field": "s", "type": "nominal", "scale": {"domain": ["9EG7","None","SG/19"], "range": ["#7a1a8c","#808080","#e62228"]}, "legend": null}, "shape": {"field": "s", "type": "nominal", "scale": {"domain": ["9EG7","None","SG/19"], "range": ["circle","square","triangle-down"]}, "legend": null}}}
   ]
  },
  {
   "width": 201, "height": 199,
   "layer": [
    {"data": {"values": [{}]}, "mark": {"type": "rule", "color": "#222", "strokeWidth": 1.2}, "encoding": {"y": {"datum": -1.85, "type": "quantitative", "scale": {"domain": [-2.879, 7.172], "reverse": true, "nice": false, "zero": false}, "axis": null}}},
    {"data": {"values": [{}]}, "mark": {"type": "rule", "color": "#888", "strokeWidth": 1}, "encoding": {"y": {"datum": -0.56, "type": "quantitative"}}},
    {"data": {"values": [{}]}, "mark": {"type": "rule", "color": "#444", "strokeWidth": 1.5}, "encoding": {"x": {"datum": 2, "type": "quantitative", "scale": {"domain": [0,1,2,3,4,5,6], "range": [0,11,19,21,68,71,137], "nice": false, "zero": false}, "axis": null}, "y": {"datum": -0.25, "type": "quantitative"}, "y2": {"datum": 2.3}}},
    {"data": {"name": "legsym"}, "mark": {"type": "point", "filled": false, "size": 50, "strokeWidth": 1.5, "opacity": 1}, "encoding": {"x": {"datum": 1, "type": "quantitative"}, "y": {"field": "r", "type": "quantitative"}, "color": {"field": "s", "type": "nominal", "scale": {"domain": ["2.0","1.0","0.5","9EG7","None","SG/19"], "range": ["#1c1c9c","#ef8a5a","#35e035","#7a1a8c","#808080","#e62228"]}, "legend": null}, "shape": {"field": "s", "type": "nominal", "scale": {"domain": ["2.0","1.0","0.5","9EG7","None","SG/19"], "range": ["triangle-up","triangle-up","triangle-up","circle","square","triangle-down"]}, "legend": null}}},
    {"data": {"name": "legtxt"}, "transform": [{"filter": "datum.p === 'C'"}], "mark": {"type": "text", "align": "left", "baseline": "middle", "fontSize": 11.5}, "encoding": {"x": {"field": "c", "type": "quantitative"}, "y": {"field": "r", "type": "quantitative"}, "text": {"field": "t"}}},
    {"data": {"values": [{"c": 4, "r": -1.05}]}, "mark": {"type": "text", "text": "K", "fontStyle": "italic", "align": "left", "baseline": "middle", "fontSize": 11.5}, "encoding": {"x": {"field": "c", "type": "quantitative"}, "y": {"field": "r", "type": "quantitative"}}},
    {"data": {"values": [{"c": 4, "r": -1.05}]}, "mark": {"type": "text", "text": "d", "align": "left", "baseline": "middle", "fontSize": 8, "dx": 7, "dy": 4}, "encoding": {"x": {"field": "c", "type": "quantitative"}, "y": {"field": "r", "type": "quantitative"}}},
    {"data": {"values": [{"c": 4, "r": -1.05}]}, "mark": {"type": "text", "text": "ens", "align": "left", "baseline": "middle", "fontSize": 8, "dx": 7, "dy": -4}, "encoding": {"x": {"field": "c", "type": "quantitative"}, "y": {"field": "r", "type": "quantitative"}}},
    {"data": {"values": [{"c": 4, "r": -1.05}]}, "mark": {"type": "text", "text": "(nM)", "align": "left", "baseline": "middle", "fontSize": 11.5, "dx": 21}, "encoding": {"x": {"field": "c", "type": "quantitative"}, "y": {"field": "r", "type": "quantitative"}}}
   ]
  },
  {
   "width": 248, "height": 215,
   "layer": [
    {"data": {"values": [{}]}, "mark": {"type": "rule", "color": "#222", "strokeWidth": 1.2}, "encoding": {"x": {"datum": 0, "type": "quantitative", "scale": {"domain": [0,1,2,3,4,5,6,7], "range": [-40,99,107,158,172,235,237,265], "nice": false, "zero": false}, "axis": null}, "x2": {"datum": 7}, "y": {"datum": -1.62, "type": "quantitative", "scale": {"domain": [-3.851, 10.676], "reverse": true, "nice": false, "zero": false}, "axis": null}}},
    {"data": {"values": [{}]}, "mark": {"type": "rule", "color": "#888", "strokeWidth": 1}, "encoding": {"x": {"datum": 0, "type": "quantitative"}, "x2": {"datum": 7}, "y": {"datum": -0.4, "type": "quantitative"}}},
    {"data": {"values": [{"c": 0, "r": -2.5}]}, "mark": {"type": "text", "text": "D", "fontWeight": "bold", "fontSize": 14, "align": "left", "baseline": "middle", "dx": -5}, "encoding": {"x": {"field": "c", "type": "quantitative"}, "y": {"field": "r", "type": "quantitative"}}},
    {"data": {"values": [{"c": 0, "r": -2.5}]}, "mark": {"type": "text", "text": "α₄β₁ on cell surface", "fontSize": 11.5, "align": "left", "baseline": "middle", "dx": 7}, "encoding": {"x": {"field": "c", "type": "quantitative"}, "y": {"field": "r", "type": "quantitative"}}},
    {"data": {"values": [{"c": 0, "r": 9}]}, "mark": {"type": "text", "text": "Receptors/cell (*10⁵)", "fontSize": 11.5, "align": "left", "baseline": "middle"}, "encoding": {"x": {"field": "c", "type": "quantitative"}, "y": {"field": "r", "type": "quantitative"}}},
    {"data": {"name": "dval"}, "mark": {"type": "text", "align": "center", "baseline": "middle", "fontSize": 11.5}, "encoding": {"x": {"field": "c", "type": "quantitative"}, "y": {"field": "r", "type": "quantitative"}, "text": {"field": "t"}}},
    {"data": {"name": "dlab"}, "mark": {"type": "text", "align": "left", "baseline": "middle", "fontSize": 11.5, "fontStyle": "italic"}, "encoding": {"x": {"datum": 0, "type": "quantitative"}, "y": {"field": "r", "type": "quantitative"}, "text": {"field": "sym"}}},
    {"data": {"name": "dlab"}, "transform": [{"filter": "datum.lt === 'Kens' || datum.lt === 'KEO'"}], "mark": {"type": "text", "text": "d", "align": "left", "baseline": "middle", "fontSize": 7.5, "dx": 8, "dy": 4}, "encoding": {"x": {"datum": 0, "type": "quantitative"}, "y": {"field": "r", "type": "quantitative"}}},
    {"data": {"name": "dlab"}, "transform": [{"filter": "datum.lt !== 'dG'"}], "mark": {"type": "text", "align": "left", "baseline": "middle", "fontSize": 7.5, "dx": 8, "dy": -4}, "encoding": {"x": {"datum": 0, "type": "quantitative"}, "y": {"field": "r", "type": "quantitative"}, "text": {"field": "sup"}}},
    {"data": {"name": "dlab"}, "transform": [{"filter": "datum.lt === 'dG'"}], "mark": {"type": "text", "align": "left", "baseline": "middle", "fontSize": 7.5, "dx": 16, "dy": -4}, "encoding": {"x": {"datum": 0, "type": "quantitative"}, "y": {"field": "r", "type": "quantitative"}, "text": {"field": "sup"}}},
    {"data": {"name": "dlab"}, "transform": [{"filter": "datum.lt === 'Kens'"}], "mark": {"type": "text", "align": "left", "baseline": "middle", "fontSize": 11.5, "dx": 56}, "encoding": {"x": {"datum": 0, "type": "quantitative"}, "y": {"field": "r", "type": "quantitative"}, "text": {"field": "unit"}}},
    {"data": {"name": "dlab"}, "transform": [{"filter": "datum.lt === 'KEO'"}], "mark": {"type": "text", "align": "left", "baseline": "middle", "fontSize": 11.5, "dx": 24}, "encoding": {"x": {"datum": 0, "type": "quantitative"}, "y": {"field": "r", "type": "quantitative"}, "text": {"field": "unit"}}},
    {"data": {"name": "dlab"}, "transform": [{"filter": "datum.lt === 'dG'"}], "mark": {"type": "text", "align": "left", "baseline": "middle", "fontSize": 11.5, "dx": 28}, "encoding": {"x": {"datum": 0, "type": "quantitative"}, "y": {"field": "r", "type": "quantitative"}, "text": {"field": "unit"}}},
    {"data": {"name": "dlab"}, "transform": [{"filter": "datum.lt === 'P'"}], "mark": {"type": "text", "align": "left", "baseline": "middle", "fontSize": 11.5, "dx": 21}, "encoding": {"x": {"datum": 0, "type": "quantitative"}, "y": {"field": "r", "type": "quantitative"}, "text": {"field": "unit"}}}
   ]
  },
  {
   "width": 247, "height": 215,
   "layer": [
    {"data": {"values": [{}]}, "mark": {"type": "rule", "color": "#222", "strokeWidth": 1.2}, "encoding": {"x": {"datum": 0, "type": "quantitative", "scale": {"domain": [0,1,2,3,4,5,6,7], "range": [61,137,159,202,220,256,276,279], "nice": false, "zero": false}, "axis": null}, "x2": {"datum": 7}, "y": {"datum": -2.9, "type": "quantitative", "scale": {"domain": [-8.0, 5.871], "reverse": true, "nice": false, "zero": false}, "axis": null}}},
    {"data": {"values": [{}]}, "mark": {"type": "rule", "color": "#333", "strokeWidth": 1}, "encoding": {"x": {"datum": 0, "type": "quantitative"}, "x2": {"datum": 7}, "y": {"datum": -0.77, "type": "quantitative"}}},
    {"data": {"values": [{}]}, "mark": {"type": "rule", "color": "#222", "strokeWidth": 1.5}, "encoding": {"x": {"datum": 0, "type": "quantitative"}, "x2": {"datum": 7}, "y": {"datum": 3.61, "type": "quantitative"}}},
    {"data": {"values": [{"c": 0, "r": -4.3}]}, "mark": {"type": "text", "text": "E", "fontWeight": "bold", "fontSize": 14, "align": "left", "baseline": "middle", "dx": -2}, "encoding": {"x": {"field": "c", "type": "quantitative"}, "y": {"field": "r", "type": "quantitative"}}},
    {"data": {"values": [{"c": 0, "r": -4.3}]}, "mark": {"type": "text", "text": "Specific fluorescence intensity of", "fontSize": 11.5, "align": "left", "baseline": "middle", "dx": 13}, "encoding": {"x": {"field": "c", "type": "quantitative"}, "y": {"field": "r", "type": "quantitative"}}},
    {"data": {"name": "etl"}, "mark": {"type": "text", "align": "left", "baseline": "middle", "fontSize": 11.5}, "encoding": {"x": {"field": "c", "type": "quantitative"}, "y": {"field": "r", "type": "quantitative"}, "text": {"field": "t"}}},
    {"data": {"name": "etc"}, "mark": {"type": "text", "align": "center", "baseline": "middle", "fontSize": 11.5}, "encoding": {"x": {"field": "c", "type": "quantitative"}, "y": {"field": "r", "type": "quantitative"}, "text": {"field": "t"}}},
    {"data": {"name": "etr"}, "mark": {"type": "text", "align": "right", "baseline": "middle", "fontSize": 11.5}, "encoding": {"x": {"field": "c", "type": "quantitative"}, "y": {"field": "r", "type": "quantitative"}, "text": {"field": "t"}}}
   ]
  }
]
}
